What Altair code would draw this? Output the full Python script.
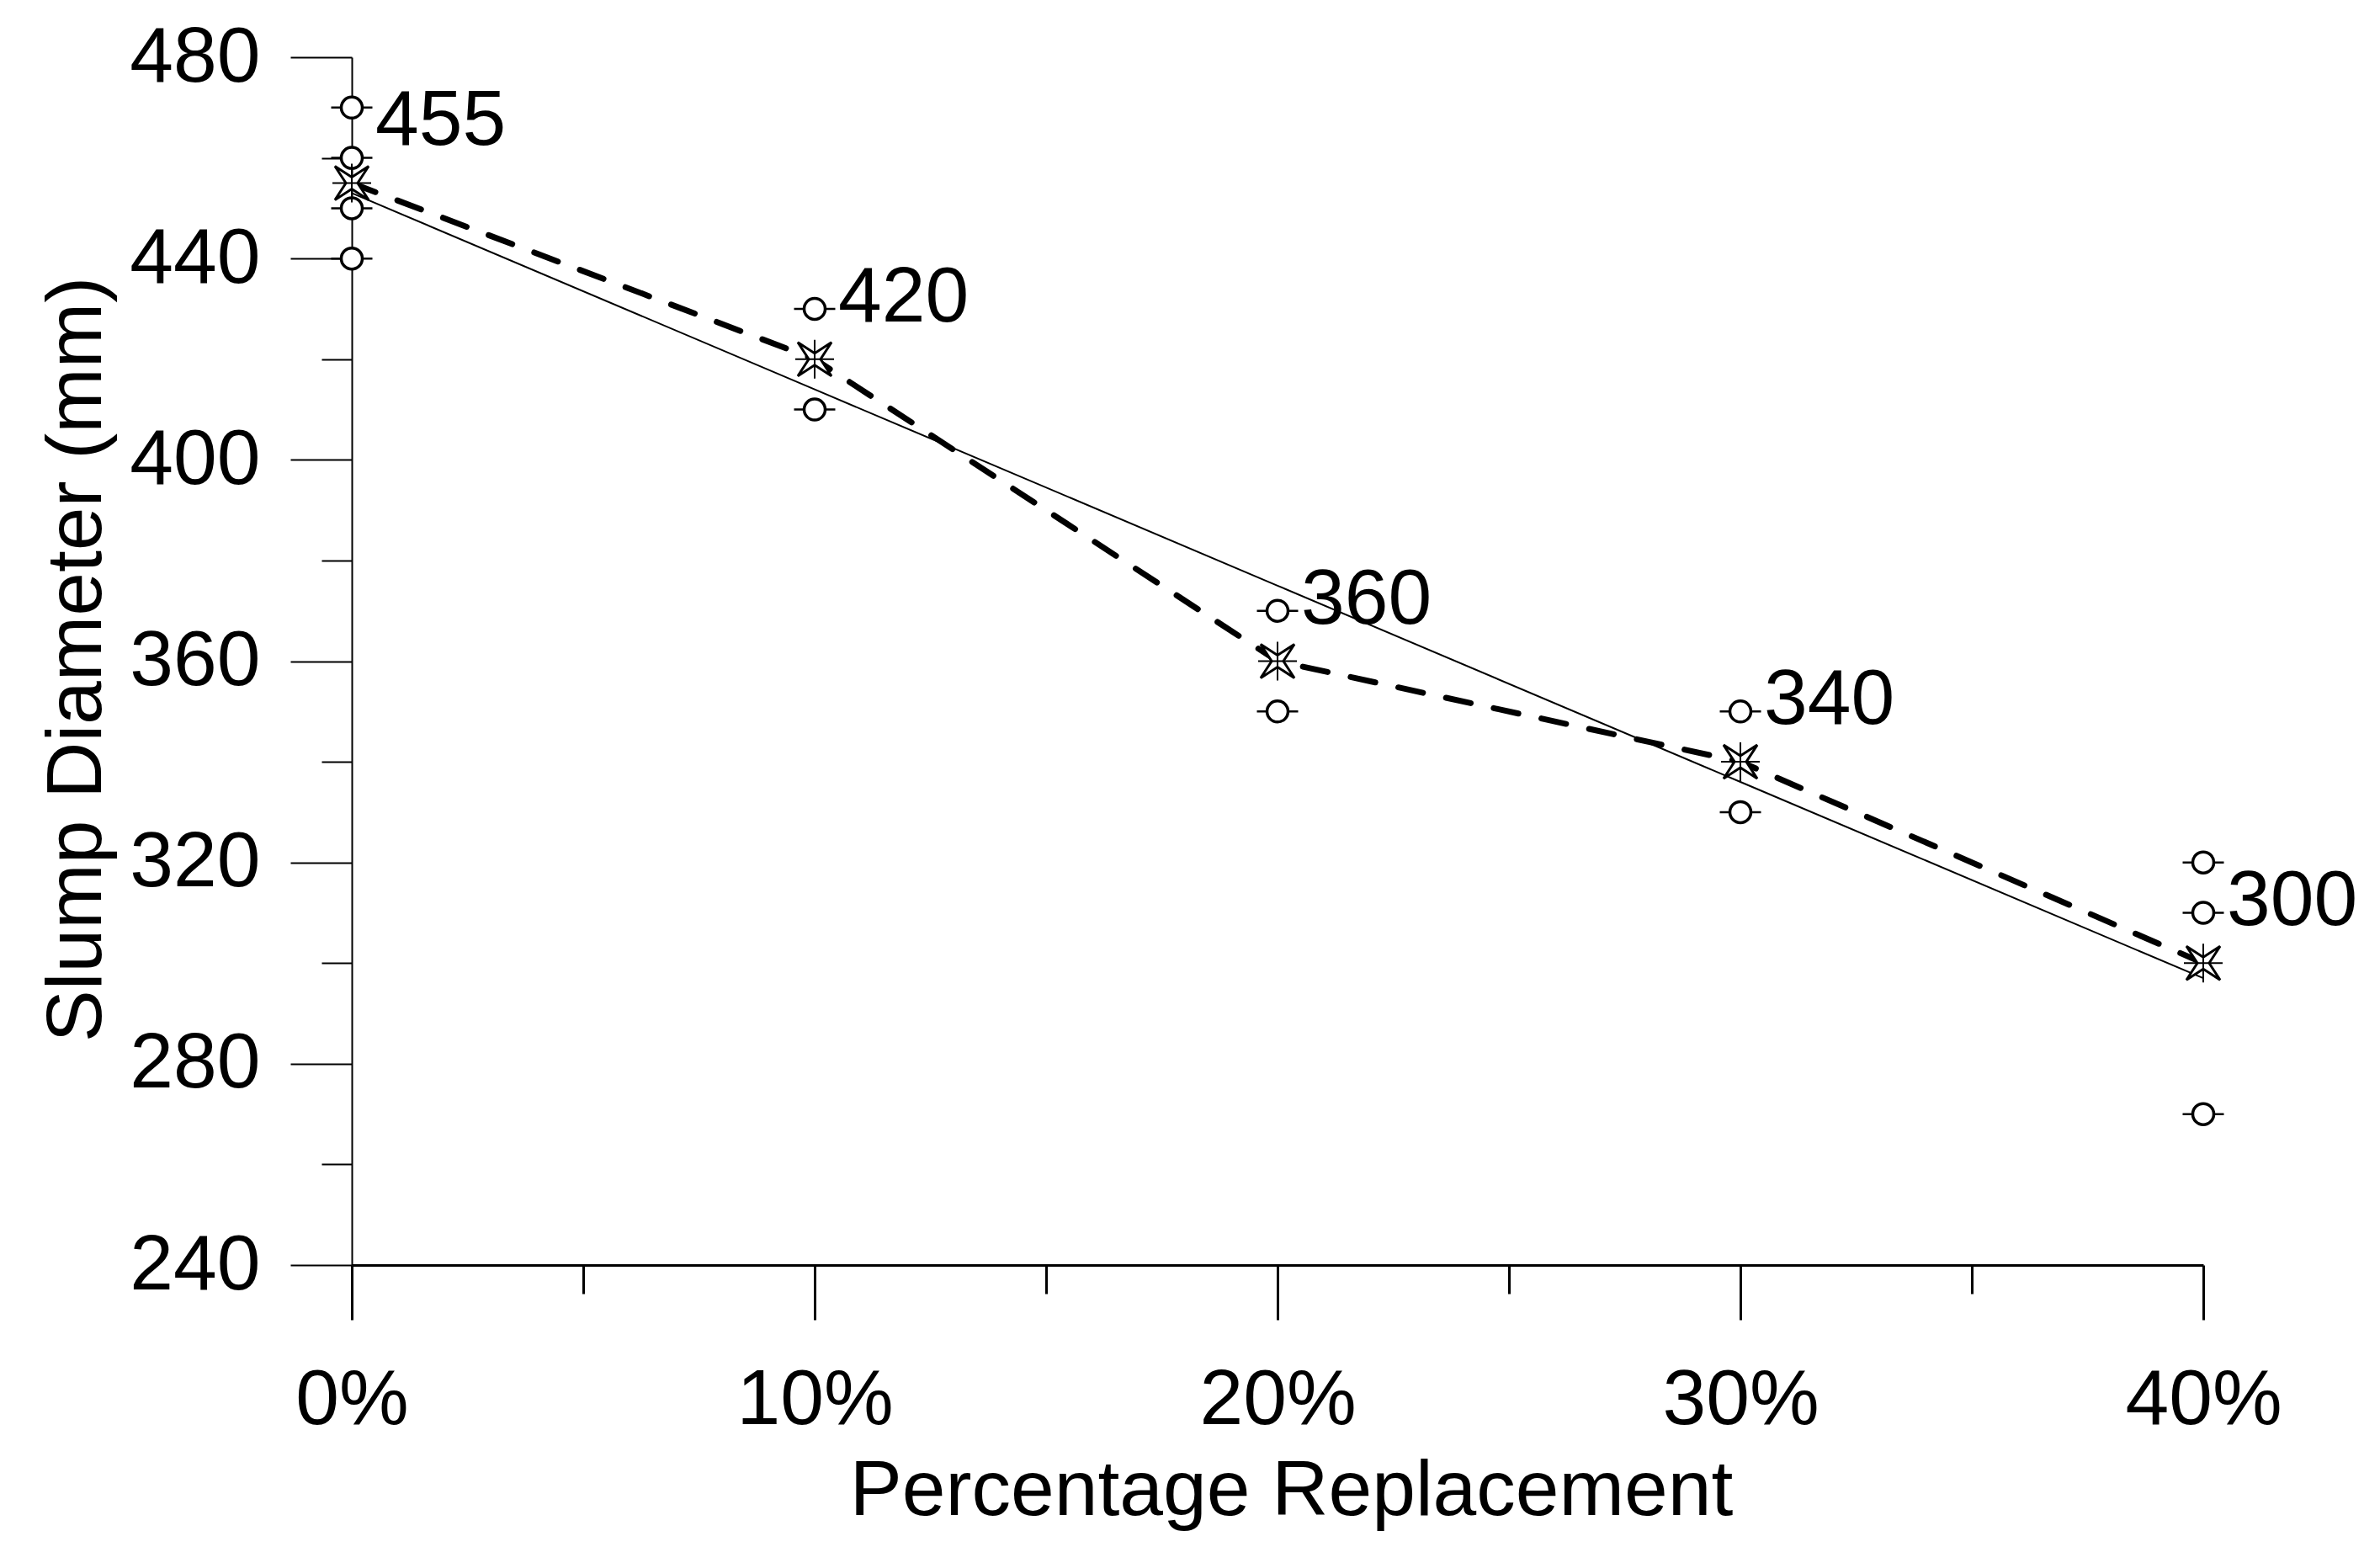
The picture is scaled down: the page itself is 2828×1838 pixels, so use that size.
import altair as alt
import pandas as pd

# ---- data ----
pct = [0, 10, 20, 30, 40]
mean_slump = [455, 420, 360, 340, 300]
fit_slump = [453, 414, 375, 336, 297]
trial_pct = [0, 0, 0, 0, 10, 10, 20, 20, 30, 30, 40, 40, 40]
trial_slump = [470, 460, 450, 440, 430, 410, 370, 350, 350, 330, 320, 310, 270]
x_ticks = [0, 5, 10, 15, 20, 25, 30, 35, 40]
y_ticks = [240, 260, 280, 300, 320, 340, 360, 380, 400, 420, 440, 460, 480]

FONT = "Liberation Sans"
FS = 93

means = pd.DataFrame({"pct": pct, "slump": mean_slump, "label": [str(v) for v in mean_slump]})
fit = pd.DataFrame({"pct": pct, "slump": fit_slump})
trials = pd.DataFrame({"pct": trial_pct, "slump": trial_slump})

x_enc = alt.X(
    "pct:Q",
    scale=alt.Scale(domain=[0, 40], nice=False, zero=False),
    axis=alt.Axis(
        values=x_ticks,
        labelExpr="datum.value % 10 === 0 ? datum.value + '%' : ''",
        tickSize={"condition": {"test": "datum.value % 10 === 0", "value": 65}, "value": 34},
        tickWidth=3, tickColor="black",
        domainWidth=3, domainColor="black",
        grid=False,
        labelFont=FONT, labelFontSize=FS, labelColor="black", labelLimit=0,
        labelBaseline="alphabetic", labelPadding=123,
        labelOverlap=False, labelBound=False, labelFlush=False,
        title="Percentage Replacement",
        titleFont=FONT, titleFontSize=FS, titleFontWeight="normal", titleColor="black",
        titleX=1116, titleY=296, titleAlign="center", titleBaseline="alphabetic", titleLimit=0,
    ),
)
y_enc = alt.Y(
    "slump:Q",
    scale=alt.Scale(domain=[240, 480], nice=False, zero=False),
    axis=alt.Axis(
        values=y_ticks,
        labelExpr="datum.value % 40 === 0 ? datum.label : ''",
        tickSize={"condition": {"test": "datum.value % 40 === 0", "value": 73}, "value": 36},
        tickWidth=2, tickColor="black",
        domainWidth=2, domainColor="black",
        grid=False,
        labelFont=FONT, labelFontSize=FS, labelColor="black", labelLimit=0,
        labelPadding=36, labelOverlap=False, labelBound=False, labelFlush=False,
        title="Slump Diameter (mm)",
        titleFont=FONT, titleFontSize=FS, titleFontWeight="normal", titleColor="black",
        titleX=-299, titleY=715, titleAngle=270, titleAlign="center", titleBaseline="alphabetic",
        titleLimit=0,
    ),
)

dashed = alt.Chart(means).mark_line(
    color="black", strokeWidth=7, strokeDash=[30, 28], strokeCap="round"
).encode(x=x_enc, y=y_enc)

fit_line = alt.Chart(fit).mark_line(color="black", strokeWidth=2).encode(x=x_enc, y=y_enc)

err = alt.Chart(trials).mark_point(
    shape="stroke", size=2400, stroke="black", strokeWidth=2.5, opacity=1
).encode(x=x_enc, y=y_enc)

circles = alt.Chart(trials).mark_point(
    shape="circle", size=625, filled=True, fill="white", stroke="black", strokeWidth=3.5, opacity=1
).encode(x=x_enc, y=y_enc)

STAR = "M-1,-1L0,-0.35L1,-1L0.35,0L1,1L0,0.35L-1,1L-0.35,0Z"
CROSS = "M0,-1L0,1M-1,0L1,0"

stars = alt.Chart(means).mark_point(
    shape=STAR, size=1600, filled=True, fill="white", stroke="black", strokeWidth=3, opacity=1
).encode(x=x_enc, y=y_enc)

crosses = alt.Chart(means).mark_point(
    shape=CROSS, size=2116, stroke="black", strokeWidth=2, opacity=1
).encode(x=x_enc, y=y_enc)

labels = alt.Chart(means).mark_text(
    align="left", baseline="alphabetic", dx=28, dy=-45,
    font=FONT, fontSize=FS, color="black"
).encode(x=x_enc, y=y_enc, text="label:N")

chart = alt.layer(dashed, fit_line, err, circles, stars, crosses, labels).properties(
    width=2200,
    height=1435,
    autosize=alt.AutoSizeParams(type="none"),
    padding={"left": 410, "top": 60, "right": 195, "bottom": 320},
    background="white",
).configure_view(stroke=None)

chart.save("out.html", embed_options={"renderer": "svg", "actions": False})
